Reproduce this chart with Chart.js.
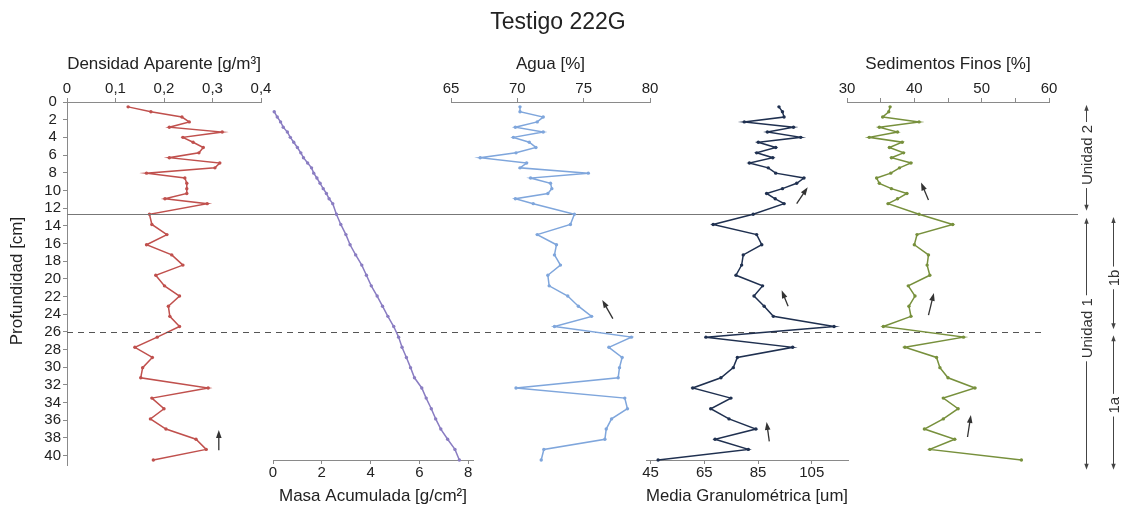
<!DOCTYPE html>
<html>
<head>
<meta charset="utf-8">
<script src="https://cdn.jsdelivr.net/npm/chart.js@4"></script>
<style>
  body { margin: 0; background: #fff; }
  #wrap { position: relative; width: 1122px; height: 506px; }
  #wrap canvas { position: absolute; left: 0; top: 0; }
</style>
</head>
<body>
<div id="wrap">
  <canvas id="dens" width="1122" height="506"></canvas>
  <canvas id="masa" width="1122" height="506"></canvas>
  <canvas id="agua" width="1122" height="506"></canvas>
  <canvas id="media" width="1122" height="506"></canvas>
  <canvas id="sed" width="1122" height="506"></canvas>
</div>
<script>
// profundidad de cada muestra [cm]
const depth = [0.55, 1.1, 1.7, 2.25, 2.85, 3.4, 4.0, 4.55, 5.15, 5.75, 6.3, 6.9, 7.45, 8.05, 8.6, 9.2, 9.8, 10.35, 10.95, 11.5,
  12.7, 13.85, 15.0, 16.15, 17.3, 18.45, 19.6, 20.8, 21.95, 23.1, 24.25, 25.4, 26.6, 27.75, 28.9, 30.05, 31.2, 32.35, 33.5, 34.7,
  35.85, 37.0, 38.15, 39.3, 40.5];

const densidad = [0.126, 0.173, 0.237, 0.252, 0.211, 0.320, 0.239, 0.260, 0.281, 0.272, 0.211, 0.315, 0.305, 0.164, 0.243, 0.247, 0.247, 0.247, 0.202, 0.289,
  0.170, 0.175, 0.206, 0.164, 0.216, 0.239, 0.183, 0.201, 0.232, 0.209, 0.212, 0.232, 0.186, 0.140, 0.176, 0.156, 0.152, 0.291, 0.175, 0.200,
  0.172, 0.204, 0.266, 0.287, 0.178];

const masa = [null, 0.05, 0.175, 0.31, 0.42, 0.59, 0.71, 0.85, 1.00, 1.14, 1.25, 1.42, 1.58, 1.67, 1.80, 1.93, 2.06, 2.19, 2.30, 2.45,
  2.60, 2.78, 2.99, 3.16, 3.39, 3.64, 3.83, 4.03, 4.27, 4.49, 4.71, 4.95, 5.15, 5.29, 5.47, 5.64, 5.80, 6.10, 6.28, 6.49,
  6.67, 6.88, 7.16, 7.46, 7.64];

const agua = [70.2, 70.2, 71.95, 71.5, 69.85, 71.95, 69.7, 70.9, 71.4, 69.9, 67.2, 70.7, 70.2, 75.35, 71.0, 72.5, 72.6, 72.3, 69.85, 71.2,
  74.3, 74.0, 71.5, 72.95, 72.8, 73.25, 72.3, 72.4, 73.8, 74.6, 75.6, 72.8, 78.6, 76.9, 77.9, 77.7, 77.6, 69.9, 78.1, 78.3,
  77.1, 76.7, 76.6, 72.0, 71.8];

const media = [92.8, 94.1, 94.7, 79.9, 98.2, 88.5, 100.9, 85.1, 91.6, 84.5, 90.5, 81.8, 88.8, 91.6, 102.1, 99.4, 94.1, 88.2, 91.4, 94.7,
  83.2, 68.3, 84.5, 86.4, 79.5, 78.9, 76.8, 86.7, 83.5, 87.3, 90.7, 113.3, 65.6, 97.9, 77.3, 75.8, 71.2, 60.7, 74.9, 67.4,
  74.2, 84.2, 69.0, 81.4, 47.8];

const sedimentos = [36.4, 36.2, 35.3, 40.7, 34.8, 37.5, 33.3, 38.2, 36.3, 38.4, 36.6, 39.5, 37.8, 36.5, 34.4, 34.8, 36.6, 38.9, 37.5, 36.1,
  40.7, 45.7, 40.4, 40.0, 42.1, 41.9, 42.3, 39.1, 40.1, 39.2, 39.5, 35.4, 47.3, 38.6, 43.3, 43.8, 45.0, 49.0, 44.3, 46.5,
  44.3, 41.5, 46.0, 42.3, 55.9];

// ticks
const depthTicks = [0, 2, 4, 6, 8, 10, 12, 14, 16, 18, 20, 22, 24, 26, 28, 30, 32, 34, 36, 38, 40];
const densTicks = [0, 0.1, 0.2, 0.3, 0.4];
const masaTicks = [0, 2, 4, 6, 8];
const aguaTicks = [65, 70, 75, 80];
const mediaTicks = [45, 65, 85, 105];
const sedTicks = [30, 35, 40, 45, 50, 55, 60];

// limites entre unidades [cm]
const limiteUnidad = 12.65;
const limiteSub = 26.0;

// flechas de tendencia [x1, prof1, x2, prof2] en unidades de cada panel
const densArrows = [[0.313, 39.4, 0.313, 37.1]];
const aguaArrows = [[77.2, 24.5, 76.4, 22.4]];
const mediaArrows = [[99.4, 11.5, 103.5, 9.65], [96.2, 23.1, 93.8, 21.3], [89.2, 38.4, 88.2, 36.2]];
const sedArrows = [[42.1, 11.1, 41.0, 9.1], [42.1, 24.1, 42.9, 21.6], [47.9, 37.9, 48.4, 35.4]];

const units = [
  { label: 'Unidad 2', from: 0.3, to: 12.3, mid: 6.0, x: 1086 },
  { label: 'Unidad 1', from: 13.1, to: 41.6, mid: 25.6, x: 1086 },
  { label: '1b', from: 13.0, to: 25.7, mid: 19.9, x: 1113 },
  { label: '1a', from: 26.4, to: 41.6, mid: 34.3, x: 1113 }
];

Chart.defaults.font.family = "'Liberation Sans', Arial, sans-serif";
Chart.defaults.color = '#222';

const axisGray = '#8a8a8a';
const tickFont = { size: 15 };
const titleFont = { size: 17, lineHeight: 1.1 };

function pts(values) {
  return depth.map((d, i) => ({ x: values[i], y: d })).filter(p => p.x !== null);
}

function head(ctx, x1, y1, x2, y2, len, w) {
  const a = Math.atan2(y2 - y1, x2 - x1);
  ctx.beginPath();
  ctx.moveTo(x2, y2);
  ctx.lineTo(x2 - len * Math.cos(a) + w * Math.sin(a), y2 - len * Math.sin(a) - w * Math.cos(a));
  ctx.lineTo(x2 - len * Math.cos(a) - w * Math.sin(a), y2 - len * Math.sin(a) + w * Math.cos(a));
  ctx.closePath();
  ctx.fill();
}

const arrowPlugin = {
  id: 'arrows',
  afterDatasetsDraw(chart, args, opts) {
    const { ctx, scales: { x, y } } = chart;
    ctx.save();
    ctx.strokeStyle = ctx.fillStyle = '#333';
    ctx.lineWidth = 1.3;
    (opts.list || []).forEach(a => {
      const x1 = x.getPixelForValue(a[0]), y1 = y.getPixelForValue(a[1]);
      const x2 = x.getPixelForValue(a[2]), y2 = y.getPixelForValue(a[3]);
      const ang = Math.atan2(y2 - y1, x2 - x1);
      ctx.beginPath();
      ctx.moveTo(x1, y1);
      ctx.lineTo(x2 - 5 * Math.cos(ang), y2 - 5 * Math.sin(ang));
      ctx.stroke();
      head(ctx, x1, y1, x2, y2, 8, 2.8);
    });
    ctx.restore();
  }
};

// titulo, limites y unidades
const overlayPlugin = {
  id: 'overlay',
  afterDraw(chart) {
    const { ctx, scales: { y }, chartArea } = chart;
    ctx.save();
    ctx.fillStyle = '#222';
    ctx.font = "23px 'Liberation Sans', Arial, sans-serif";
    ctx.textAlign = 'center';
    ctx.textBaseline = 'middle';
    ctx.fillText('Testigo 222G', 558, 23);

    ctx.strokeStyle = '#777';
    ctx.lineWidth = 1;
    let yy = Math.round(y.getPixelForValue(limiteUnidad)) + 0.5;
    ctx.beginPath(); ctx.moveTo(chartArea.left, yy); ctx.lineTo(1078, yy); ctx.stroke();
    yy = Math.round(y.getPixelForValue(limiteSub)) + 0.5;
    ctx.setLineDash([6, 5]);
    ctx.strokeStyle = '#555';
    ctx.beginPath(); ctx.moveTo(chartArea.left, yy); ctx.lineTo(1045, yy); ctx.stroke();
    ctx.setLineDash([]);

    // eje de profundidad un poco mas largo abajo
    ctx.strokeStyle = axisGray;
    ctx.beginPath(); ctx.moveTo(chartArea.left + 0.5, chartArea.bottom); ctx.lineTo(chartArea.left + 0.5, chartArea.bottom + 6); ctx.stroke();

    ctx.strokeStyle = ctx.fillStyle = '#444';
    ctx.font = "15px 'Liberation Sans', Arial, sans-serif";
    units.forEach(u => {
      const x = u.x + 0.5, y1 = y.getPixelForValue(u.from), y2 = y.getPixelForValue(u.to), ym = y.getPixelForValue(u.mid);
      ctx.beginPath(); ctx.moveTo(x, y1 + 4); ctx.lineTo(x, y2 - 4); ctx.stroke();
      head(ctx, x, y2, x, y1, 6, 2.2);
      head(ctx, x, y1, x, y2, 6, 2.2);
      ctx.save();
      ctx.translate(x, ym);
      ctx.rotate(-Math.PI / 2);
      const w = ctx.measureText(u.label).width;
      ctx.fillStyle = '#fff';
      ctx.fillRect(-w / 2 - 3, -9, w + 6, 18);
      ctx.fillStyle = '#333';
      ctx.fillText(u.label, 0, 1);
      ctx.restore();
    });
    ctx.restore();
  }
};

function xAxis(cfg) {
  return {
    type: 'linear',
    position: cfg.pos,
    min: cfg.min,
    max: cfg.max,
    afterBuildTicks: s => { s.ticks = cfg.ticks.map(v => ({ value: v })); },
    afterFit: s => { s.height = cfg.pos === 'top' ? 52 : 46; },
    ticks: { autoSkip: false, maxRotation: 0, padding: 0, font: tickFont, color: '#222', callback: cfg.label || (v => String(v)) },
    grid: { drawOnChartArea: false, drawTicks: true, tickLength: 4, color: axisGray },
    border: { color: axisGray, width: 1 },
    title: { display: true, text: cfg.title, font: titleFont, color: '#222', padding: cfg.pos === 'top' ? { top: 5, bottom: 0 } : { top: 0, bottom: 0 } }
  };
}

function chartGen(id, cfg) {
  const yAxis = cfg.yAxis ? {
    type: 'linear', reverse: true, min: 0, max: 40.5, position: 'left',
    afterBuildTicks: s => { s.ticks = depthTicks.map(v => ({ value: v })); },
    afterFit: s => { s.width = 63; },
    ticks: { autoSkip: false, padding: 2, crossAlign: 'center', font: tickFont, color: '#222' },
    grid: { drawOnChartArea: false, tickLength: 4, color: axisGray },
    border: { color: axisGray, width: 1 },
    title: { display: true, text: 'Profundidad [cm]', font: titleFont, color: '#222', padding: { top: 4, bottom: 0 } }
  } : { type: 'linear', reverse: true, min: 0, max: 40.5, display: false };

  return new Chart(document.getElementById(id), {
    type: 'scatter',
    data: {
      datasets: [{
        data: pts(cfg.values),
        showLine: true,
        borderColor: cfg.color,
        backgroundColor: cfg.color,
        borderWidth: 1.5,
        pointRadius: 1.7,
        pointBorderWidth: 0,
        clip: false
      }]
    },
    options: {
      responsive: false,
      animation: false,
      devicePixelRatio: 1,
      layout: { autoPadding: false, padding: cfg.padding },
      plugins: { legend: { display: false }, tooltip: { enabled: false }, arrows: { list: cfg.arrows || [] } },
      scales: { x: xAxis(cfg.axis), y: yAxis }
    },
    plugins: [arrowPlugin].concat(cfg.extra || [])
  });
}

chartGen('dens', {
  values: densidad, color: '#c0504d', yAxis: true, arrows: densArrows, extra: [overlayPlugin],
  padding: { left: 4, right: 861, top: 50, bottom: 46 },
  axis: { pos: 'top', min: 0, max: 0.4, ticks: densTicks, title: 'Densidad Aparente [g/m³]', label: v => String(v).replace('.', ',') }
});
chartGen('masa', {
  values: masa, color: '#8a7dc2',
  padding: { left: 273, right: 649, top: 102, bottom: 0 },
  axis: { pos: 'bottom', min: 0, max: 8.2, ticks: masaTicks, title: 'Masa Acumulada [g/cm²]' }
});
chartGen('agua', {
  values: agua, color: '#7fa6dc', arrows: aguaArrows,
  padding: { left: 451, right: 472, top: 50, bottom: 46 },
  axis: { pos: 'top', min: 65, max: 80, ticks: aguaTicks, title: 'Agua [%]' }
});
chartGen('media', {
  values: media, color: '#1f3050', arrows: mediaArrows,
  padding: { left: 646, right: 274, top: 102, bottom: 0 },
  axis: { pos: 'bottom', min: 43.3, max: 118.5, ticks: mediaTicks, title: 'Media Granulométrica [um]' }
});
chartGen('sed', {
  values: sedimentos, color: '#77903c', arrows: sedArrows,
  padding: { left: 847, right: 73, top: 50, bottom: 46 },
  axis: { pos: 'top', min: 30, max: 60, ticks: sedTicks, title: 'Sedimentos Finos [%]', label: v => (v % 10 === 0 ? String(v) : '') }
});
</script>
</body>
</html>
